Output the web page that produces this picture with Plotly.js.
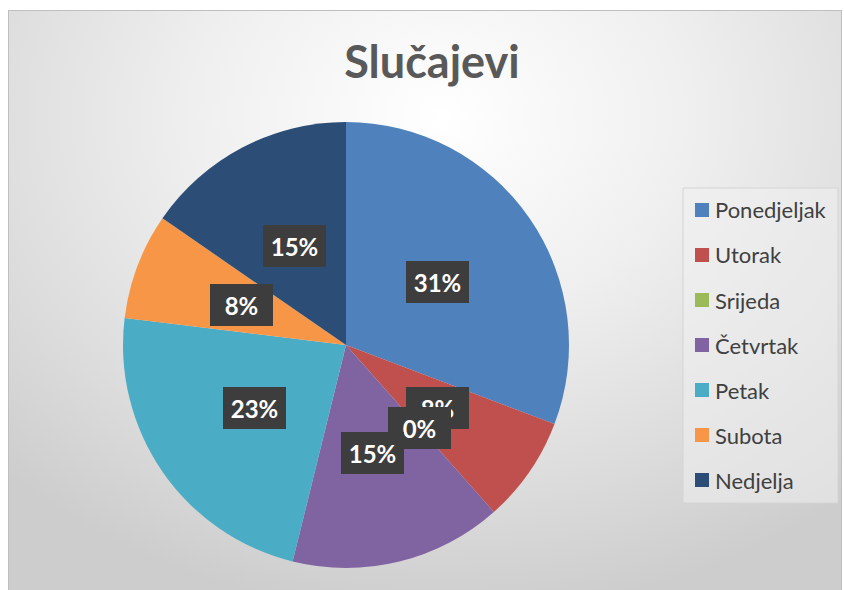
<!DOCTYPE html>
<html>
<head>
<meta charset="utf-8">
<script src="https://cdn.plot.ly/plotly-3.0.1.min.js"></script>
<style>
  html, body { margin: 0; padding: 0; background: #ffffff; }
  #frame {
    position: absolute; left: 8px; top: 10px; width: 834px; height: 590px;
    box-sizing: border-box; border: 1px solid #bfbfbf;
    background: radial-gradient(ellipse 75% 85% at 52% 18%, #ffffff 0%, #efefef 40%, #dcdcdc 75%, #cdcdcd 100%);
  }
  #chart { position: absolute; left: 0; top: 0; width: 844px; height: 590px; }
</style>
</head>
<body>
<div id="frame"></div>
<div id="chart"></div>
<script>
const categories = ['Ponedjeljak', 'Utorak', 'Srijeda', 'Četvrtak', 'Petak', 'Subota', 'Nedjelja'];
const values = [4, 1, 0, 2, 3, 1, 2];
const colors = ['#4f81bd', '#c0504d', '#9bbb59', '#8064a2', '#4bacc6', '#f79646', '#2c4d75'];
const chartTitle = 'Slučajevi';

const W = 844, H = 590;
const px = x => x / W;
const py = y => 1 - y / H;

// pie placement (pixels)
const cx = 346, cy = 345, R = 223;

const total = values.reduce((a, b) => a + b, 0);
const annotations = [];
const shapes = [];

// data labels positioned from the slice angles
let cum = 0;
values.forEach((v, i) => {
  const mid = (cum + v / 2) / total * 2 * Math.PI;
  cum += v;
  const lx = cx + 0.5 * R * Math.sin(mid);
  const ly = cy - 0.5 * R * Math.cos(mid);
  annotations.push({
    xref: 'paper', yref: 'paper', x: px(lx), y: py(ly),
    xanchor: 'center', yanchor: 'middle', showarrow: false,
    text: Math.round(v / total * 100) + '%',
    font: { family: 'Lato, "Open Sans", sans-serif', size: 24, color: '#ffffff', weight: 'bold' },
    bgcolor: '#3d3d3d', borderwidth: 0, borderpad: 2,
    width: 59, height: 38, align: 'center', valign: 'middle'
  });
});

// legend box
shapes.push({
  type: 'rect', xref: 'paper', yref: 'paper',
  x0: px(683), x1: px(838), y0: py(188), y1: py(503),
  fillcolor: 'rgba(240,240,240,0.55)', line: { color: '#d4d4d4', width: 1 }, layer: 'below'
});
categories.forEach((c, i) => {
  const ry = 210 + 45 * i;
  shapes.push({
    type: 'rect', xref: 'paper', yref: 'paper',
    x0: px(695), x1: px(709), y0: py(ry + 7), y1: py(ry - 7),
    fillcolor: colors[i], line: { width: 0 }
  });
  annotations.push({
    xref: 'paper', yref: 'paper', x: px(713), y: py(ry),
    xanchor: 'left', yanchor: 'middle', showarrow: false,
    text: c,
    font: { family: 'Lato, "Open Sans", sans-serif', size: 22, color: '#404040' }
  });
});

const data = [{
  type: 'pie',
  labels: categories,
  values: values,
  marker: { colors: colors, line: { width: 0 } },
  sort: false,
  direction: 'clockwise',
  rotation: 0,
  textinfo: 'none',
  hoverinfo: 'none',
  showlegend: false,
  domain: { x: [px(cx - R), px(cx + R)], y: [py(cy + R), py(cy - R)] }
}];

const layout = {
  width: W, height: H,
  margin: { l: 0, r: 0, t: 0, b: 0 },
  paper_bgcolor: 'rgba(0,0,0,0)',
  plot_bgcolor: 'rgba(0,0,0,0)',
  showlegend: false,
  title: {
    text: chartTitle,
    x: px(432), xanchor: 'center',
    y: py(62), yanchor: 'middle',
    font: { family: 'Lato, "Open Sans", sans-serif', size: 45, color: '#595959', weight: 'bold' }
  },
  annotations: annotations,
  shapes: shapes
};

Plotly.newPlot('chart', data, layout, { displayModeBar: false, staticPlot: true });
</script>
</body>
</html>
